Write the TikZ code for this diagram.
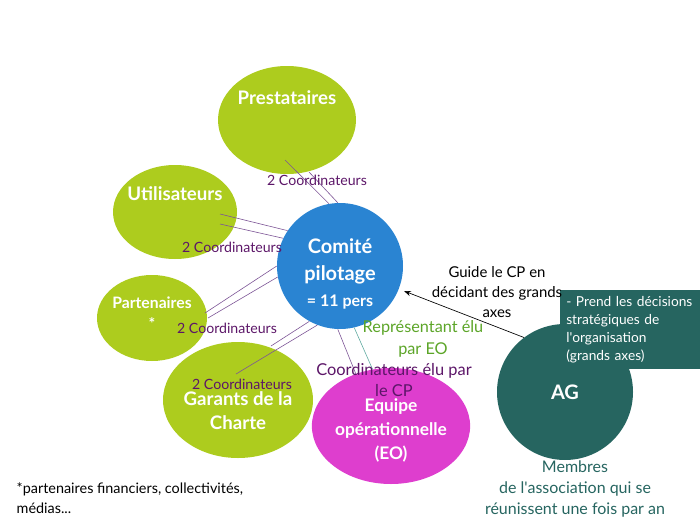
\documentclass[tikz,border=0pt]{standalone}
\usepackage{fontspec}
\setmainfont{Lato}
\usepackage{tikz}
\usetikzlibrary{positioning,arrows.meta,shapes.geometric,calc}
\definecolor{satgreen}{RGB}{173,204,30}
\definecolor{cpblue}{RGB}{42,132,210}
\definecolor{eomag}{RGB}{222,62,206}
\definecolor{agteal}{RGB}{38,101,96}
\definecolor{coordpurple}{RGB}{92,22,104}
\definecolor{linkpurple}{RGB}{125,85,150}
\definecolor{reptext}{RGB}{92,165,40}
\definecolor{replink}{RGB}{95,170,160}

\begin{document}
\begin{tikzpicture}[
  x=0.75pt,y=-0.75pt,
  sat/.style={ellipse,fill=satgreen,inner sep=0pt},
  satlbl/.style={text=white,font=\fontsize{14}{18}\selectfont\bfseries,align=center},
  hub/.style={circle,fill=cpblue,inner sep=0pt,minimum size=94.5pt},
  coord/.style={text=coordpurple,font=\fontsize{10.6}{12}\selectfont},
  link/.style={draw=linkpurple,line width=0.45pt},
  note/.style={font=\fontsize{11.2}{15}\selectfont,align=center},
  >={Stealth}]
  \useasboundingbox (0,0) rectangle (700,525);
  % satellites
  \node (presta) [sat,minimum width=103.5pt,minimum height=81pt,
    label={[satlbl,yshift=16.5pt]center:Prestataires}] at (287,120) {};
  \node (util) [sat,minimum width=93pt,minimum height=70.5pt,
    label={[satlbl,yshift=14pt]center:Utilisateurs}] at (175,212) {};
  \node (part) [sat,minimum width=82.5pt,minimum height=64.5pt,
    label={[satlbl,font=\fontsize{11.8}{16}\selectfont\bfseries,yshift=3.5pt]center:Partenaires\\*}] at (152,318) {};
  \node (garants) [sat,minimum width=112.5pt,minimum height=87pt,
    label={[satlbl,yshift=-8pt]center:Garants de la\\Charte}] at (238,400) {};
  % comite + equipe + AG
  \node (cp) [hub,label={[satlbl,font=\fontsize{15}{20}\selectfont\bfseries,yshift=-6pt]center:
    Comité\\pilotage\\{\fontsize{12}{12}\selectfont = 11 pers}}] at (340,266) {};
  \node (eo) [ellipse,fill=eomag,inner sep=0pt,minimum width=117pt,minimum height=87pt,
    text=white,font=\fontsize{13}{18}\selectfont\bfseries,align=center] at (391,426)
    {\\[-2pt]Equipe\\opérationnelle\\(EO)};
  \node (ag) [circle,fill=agteal,inner sep=0pt,minimum size=102pt,text=white,
    font=\fontsize{15}{16}\selectfont\bfseries] at (565,392) {AG};
  \node (dec) [fill=agteal,anchor=north west,minimum width=105pt,minimum height=58.5pt,
    inner xsep=4.5pt,inner ysep=4.5pt,text width=112pt,align=left,text=white,
    font=\fontsize{10.3}{13.5}\selectfont] at (560,290)
    {- Prend les décisions\\stratégiques de\\l\textquotesingle organisation\\(grands axes)};
  % liens coordinateurs
  \draw[link] ($(presta)+(-2,40)$) -- (cp.100);
  \draw[link] ($(presta)+(22,52)$) -- (cp.92);
  \draw[link] ($(util)+(45,2)$) -- (cp.146);
  \draw[link] ($(util)+(45,12)$) -- (cp.154);
  \draw[link] ($(part)+(53,-5)$) -- (cp.180);
  \draw[link] ($(part)+(56,0)$) -- (cp.190);
  \draw[link] ($(garants)+(33,-54)$) -- (cp.241);
  \draw[link] ($(garants)+(-2,-26)$) -- (cp.249);
  \draw[link] (cp.268) -- (eo.124);
  \draw[draw=replink,line width=0.45pt] (cp.283) -- (eo.108);
  \draw[->,line width=0.5pt] (ag.127) -- ($(cp)+(64,25)$);
  % textes
  \node (c1) [coord] at (317,180) {2 Coordinateurs};
  \node (c2) [coord] at (232,247) {2 Coordinateurs};
  \node (c3) [coord] at (227,328) {2 Coordinateurs};
  \node (c4) [coord] at (242,384) {2 Coordinateurs};
  \node (guide) [note] at (497,292) {Guide le CP en\\décidant des grands\\axes};
  \node (rep) [note,text=reptext,font=\fontsize{12.2}{16.5}\selectfont] at (423,339) {Représentant élu\\par EO};
  \node (celu) [note,text=coordpurple,font=\fontsize{12.3}{15.5}\selectfont] at (394,380) {Coordinateurs élu par\\le CP};
  \node (membres) [note,text=agteal,font=\fontsize{12}{16}\selectfont] at (575,489)
    {Membres\\de l\textquotesingle association qui se\\réunissent une fois par an};
  \node (foot) [font=\fontsize{10.8}{15}\selectfont,align=left,anchor=west] at (12,498)
    {*partenaires financiers, collectivités,\\médias...};
\end{tikzpicture}
\end{document}
